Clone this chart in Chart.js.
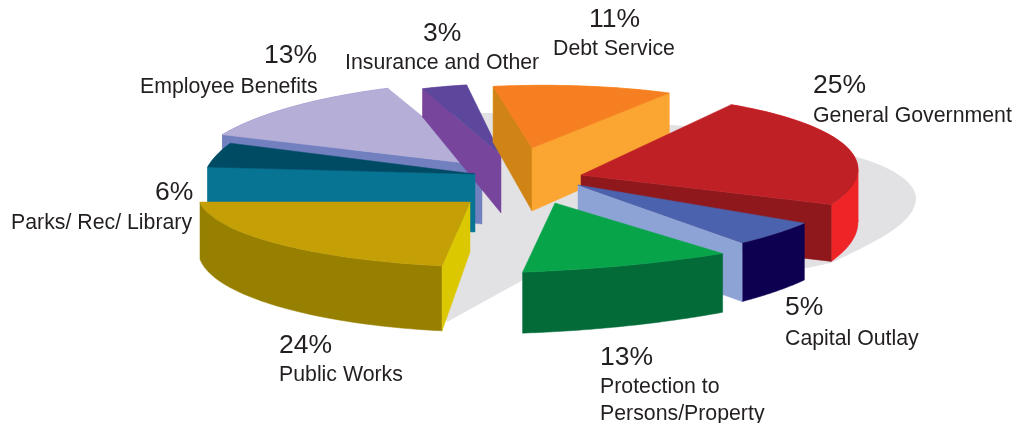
<!DOCTYPE html>
<html><head><meta charset="utf-8">
<style>html,body{margin:0;padding:0;background:#fff}canvas{display:block}</style>
<script src="https://cdn.jsdelivr.net/npm/chart.js@4"></script>
</head><body><canvas id="c" width="1021" height="423"></canvas>
<script>
const categories = ["General Government","Capital Outlay","Protection to\nPersons/Property","Public Works","Parks/ Rec/ Library","Employee Benefits","Insurance and Other","Debt Service"];
const shares = [25,5,13,24,6,13,3,11];
const topColors = ["#BE2026","#4B62AE","#08A44A","#C49F05","#004B64","#B5AFD8","#5C479C","#F67F22"];
const startWallColors = ["#8F181C","#8DA3D6","#026B38","#DCC800","#077494","#7380C0","#77459C","#D08416"];
const endWallColors = ["#8F181C","#8DA3D6","#026B38","#DCC800","#077494","#7380C0","#77459C","#FBA632"];
const rimColors = ["#EE2427","#0E0050","#026B38","#978000","#077494","#7380C0","#77459C","#FBA632"];
// presentation of the exploded 3-D pie
const explodeX = [70.5,67.5,44.5,-40.5,-35.5,-28.5,-9.5,21.5];
const explodeY = [-36.5,-26.5,-8.5,-9.5,-37.5,-46.5,-56.5,-63.5];
const scaleX = [1.08,1.03,0.97,1,0.99,1.05,0.89,0.98];
const scaleY = [1.15,1.2,1.05,0.97,1,1.25,1.08,0.95];
const tilt = [-8,0,0,0,7,0,0,0];
const skew = [0,25,5,0,0,0,0,0];
const flatten = [0.2,0,0.5,0.2,0.5,0.1,0,0];
const rimDepth = [53,53,53,57,58,62,36,64];
const apexDepth = [57,58,60,50,58,59,58,63];
const paintOrder = [5,6,7,4,0,1,2,3];
const labelX = [813,785,600,279,155,264,423,589];
const percentY = [93,315,365,353,200,63,41,27];
const nameX = [813,785,600,279,11,140,345,553];
const nameY = [122,345,393,381,229,93,69,55];

function fillPoly(ctx, pts, color){
  ctx.beginPath();
  pts.forEach((p,i)=> i ? ctx.lineTo(p[0],p[1]) : ctx.moveTo(p[0],p[1]));
  ctx.closePath();
  ctx.fillStyle = color; ctx.strokeStyle = color; ctx.lineWidth = 0.5;
  ctx.fill(); ctx.stroke();
}
function area(p){let s=0;for(let i=0;i<p.length;i++){const a=p[i],b=p[(i+1)%p.length];s+=a[0]*b[1]-b[0]*a[1];}return s/2;}

const pie3d = {
  id:'pie3d',
  beforeDatasetDraw(){ return false; },
  beforeDatasetsDraw(chart){
    const c = chart.ctx;
    c.save(); c.fillStyle="#E2E2E5"; c.beginPath();
    c.moveTo(447,322); c.lineTo(523,280); c.lineTo(700,290); c.lineTo(831,263);
    c.bezierCurveTo(880,240,916,222,916,198);
    c.bezierCurveTo(916,180,885,165,860,158);
    c.bezierCurveTo(800,140,740,128,670,125);
    c.bezierCurveTo(600,118,540,112,476,113);
    c.bezierCurveTo(455,125,445,150,440,175);
    c.lineTo(430,260); c.closePath(); c.fill(); c.restore();
  },
  afterDatasetsDraw(chart){
    const ctx = chart.ctx, arcs = chart.getDatasetMeta(0).data;
    paintOrder.forEach(i=>{
      const a = arcs[i], R = a.outerRadius;
      const ax = a.x + explodeX[i], ay = a.y + explodeY[i];
      const rx = R*1.2766*scaleX[i], ry = R*0.312*scaleY[i], sh = R*0.052+skew[i];
      const P = ang=>{
        const u=Math.cos(ang), v=Math.sin(ang);
        return [ax + rx*u - sh*v, ay + ry*v + tilt[i]*u, rimDepth[i] + 8*v];
      };
      const steps = 48, rim=[];
      for(let k=0;k<=steps;k++) rim.push(P(a.startAngle+(a.endAngle-a.startAngle)*k/steps));
      const r0=rim[0].slice(), r1=rim[steps].slice();
      rim.forEach((p,k)=>{
        const t=k/steps;
        p[0]+=flatten[i]*(r0[0]+(r1[0]-r0[0])*t-p[0]);
        p[1]+=flatten[i]*(r0[1]+(r1[1]-r0[1])*t-p[1]);
      });
      const down = p=>[p[0],p[1]+p[2]];
      // outer rim: one strip per run of steadily moving x, so folds leave no holes
      let from=0;
      for(let k=1;k<=steps;k++){
        const turn = k<steps && (rim[k][0]-rim[k-1][0])*(rim[k+1][0]-rim[k][0])<0;
        if(turn||k===steps){
          const run=rim.slice(from,k+1);
          fillPoly(ctx,[...run,...run.slice().reverse().map(down)],rimColors[i]);
          from=k;
        }
      }
      const apex=[ax,ay], apexB=[ax,ay+apexDepth[i]];
      const s=rim[0], e=rim[steps];
      // radial walls, only when they face the viewer
      const wS=[apex,s,down(s),apexB], wE=[apex,e,down(e),apexB];
      if(area(wS)<0) fillPoly(ctx,wS,startWallColors[i]);
      if(area(wE)>0) fillPoly(ctx,wE,endWallColors[i]);
      fillPoly(ctx,[apex,...rim],topColors[i]);
    });
    ctx.save();
    ctx.fillStyle="#231F20"; ctx.textAlign="left"; ctx.textBaseline="alphabetic";
    categories.forEach((name,i)=>{
      ctx.font='26.5px "Liberation Sans"';
      ctx.fillText(shares[i]+"%",labelX[i],percentY[i]);
      ctx.font='21.3px "Liberation Sans"';
      name.split("\n").forEach((line,j)=>ctx.fillText(line,nameX[i],nameY[i]+j*27));
    });
    ctx.restore();
  }
};

new Chart(document.getElementById('c'),{
  type:'pie',
  data:{labels:categories,datasets:[{data:shares,backgroundColor:topColors,borderWidth:0}]},
  options:{responsive:false,animation:false,rotation:28.8,
    layout:{padding:0},
    plugins:{legend:{display:false},tooltip:{enabled:false}}},
  plugins:[pie3d]
});
</script></body></html>
